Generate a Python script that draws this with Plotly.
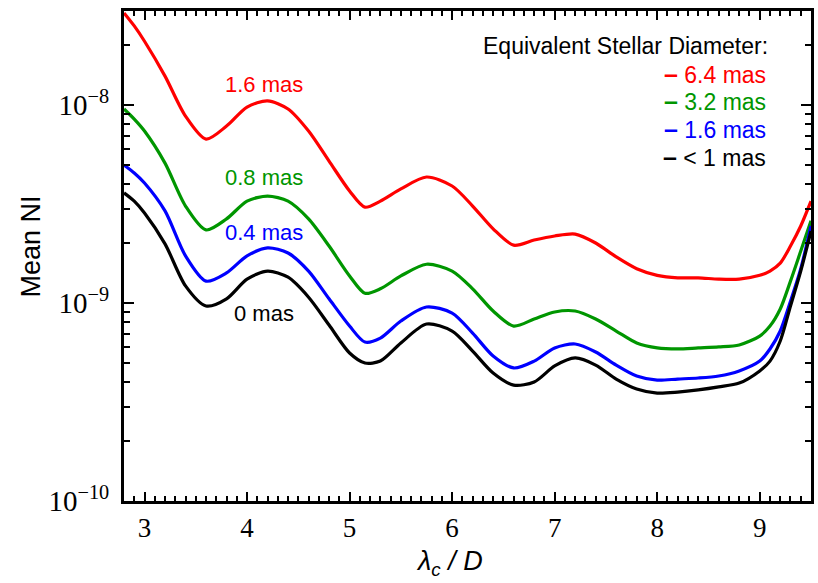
import plotly.graph_objects as go

# ---- data ----
lam = [2.8, 2.9, 3.0, 3.2, 3.4, 3.6, 3.8, 4.0, 4.2, 4.4,
       4.6, 4.8, 5.0, 5.15, 5.3, 5.5, 5.75, 6.0, 6.2, 6.4,
       6.6, 6.8, 7.0, 7.2, 7.4, 7.6, 7.8, 8.0, 8.2, 8.4,
       8.6, 8.8, 9.0, 9.1, 9.2, 9.3, 9.4, 9.5]

ni_64 = [2.92e-8, 2.51e-8, 2.10e-8, 1.40e-8, 8.79e-9, 6.73e-9, 7.83e-9, 9.77e-9, 1.05e-8, 9.55e-9,
         7.39e-9, 5.21e-9, 3.68e-9, 3.05e-9, 3.27e-9, 3.77e-9, 4.33e-9, 3.90e-9, 3.09e-9, 2.37e-9,
         1.96e-9, 2.08e-9, 2.18e-9, 2.23e-9, 2.01e-9, 1.71e-9, 1.49e-9, 1.38e-9, 1.34e-9, 1.34e-9,
         1.32e-9, 1.32e-9, 1.38e-9, 1.45e-9, 1.59e-9, 1.94e-9, 2.45e-9, 3.27e-9]

ni_32 = [9.55e-9, 8.49e-9, 7.39e-9, 5.09e-9, 3.09e-9, 2.34e-9, 2.66e-9, 3.27e-9, 3.47e-9, 3.27e-9,
         2.66e-9, 1.94e-9, 1.37e-9, 1.12e-9, 1.18e-9, 1.37e-9, 1.57e-9, 1.45e-9, 1.18e-9, 9.11e-10,
         7.65e-10, 8.30e-10, 9.01e-10, 9.11e-10, 8.30e-10, 7.22e-10, 6.28e-10, 5.93e-10, 5.86e-10, 5.93e-10,
         6.00e-10, 6.14e-10, 6.81e-10, 7.65e-10, 9.33e-10, 1.29e-9, 1.83e-9, 2.60e-9]

ni_16 = [4.98e-9, 4.54e-9, 4.04e-9, 2.92e-9, 1.73e-9, 1.29e-9, 1.42e-9, 1.73e-9, 1.90e-9, 1.79e-9,
         1.45e-9, 1.05e-9, 7.65e-10, 6.35e-10, 6.65e-10, 8.11e-10, 9.55e-10, 8.90e-10, 7.05e-10, 5.40e-10,
         4.70e-10, 5.09e-10, 5.93e-10, 6.21e-10, 5.66e-10, 4.86e-10, 4.28e-10, 4.08e-10, 4.13e-10, 4.18e-10,
         4.28e-10, 4.54e-10, 5.09e-10, 5.86e-10, 7.22e-10, 1.02e-9, 1.49e-9, 2.45e-9]

ni_lt1 = [3.60e-9, 3.27e-9, 2.85e-9, 1.99e-9, 1.22e-9, 9.66e-10, 1.05e-9, 1.32e-9, 1.45e-9, 1.35e-9,
          1.07e-9, 7.74e-10, 5.59e-10, 4.98e-10, 5.09e-10, 6.28e-10, 7.83e-10, 7.22e-10, 5.72e-10, 4.43e-10,
          3.85e-10, 3.99e-10, 4.81e-10, 5.28e-10, 4.86e-10, 4.13e-10, 3.68e-10, 3.51e-10, 3.55e-10, 3.64e-10,
          3.77e-10, 3.94e-10, 4.54e-10, 5.09e-10, 6.43e-10, 9.66e-10, 1.45e-9, 2.31e-9]

series_names = ["6.4 mas", "3.2 mas", "1.6 mas", "< 1 mas"]
series_labels = ["1.6 mas", "0.8 mas", "0.4 mas", "0 mas"]
series_values = [ni_64, ni_32, ni_16, ni_lt1]
colors = ["#FF0000", "#009600", "#0000FF", "#000000"]

x_ticks = [3, 4, 5, 6, 7, 8, 9]
y_ticks = [1e-10, 1e-9, 1e-8]
y_ticktext = ["10<sup>\u221210</sup>", "10<sup>\u22129</sup>", "10<sup>\u22128</sup>"]
y_minor = [k * 10.0 ** e for e in (-10, -9, -8) for k in range(2, 10)]
x_minor = [round(2.8 + 0.1 * i, 1) for i in range(68)]

legend_title = "Equivalent Stellar Diameter:"

fig = go.Figure()
for name, vals, col in zip(series_names, series_values, colors):
    fig.add_trace(go.Scatter(x=lam, y=vals, mode="lines", name=name,
                             line=dict(color=col, width=3.2, shape="spline", smoothing=0.8),
                             showlegend=False))

sans = "Liberation Sans, Arial, sans-serif"
serif = "Liberation Serif, Times New Roman, serif"

axis_common = dict(showline=True, linecolor="black", linewidth=3, mirror="ticks",
                   ticks="inside", tickcolor="black", tickwidth=2,
                   showgrid=False, zeroline=False)

fig.update_xaxes(range=[2.8, 9.5], tickmode="array", tickvals=x_ticks,
                 ticklen=9, tickfont=dict(family=serif, size=27, color="black"),
                 ticklabelstandoff=1,
                 minor=dict(tickmode="array", tickvals=x_minor, ticks="inside",
                            ticklen=5, tickwidth=2, tickcolor="black"),
                 **axis_common)
fig.update_yaxes(type="log", range=[-10, -7.525], tickmode="array",
                 tickvals=y_ticks, ticktext=y_ticktext, ticklen=10,
                 tickfont=dict(family=serif, size=29, color="black"),
                 ticklabelstandoff=6,
                 minor=dict(tickmode="array", tickvals=y_minor, ticks="inside",
                            ticklen=6, tickwidth=2, tickcolor="black"),
                 **axis_common)

# axis titles
fig.add_annotation(text="<i>\u03bb</i><sub><i>c</i></sub><i> / D</i>", xref="paper", yref="paper",
                   x=0.474, y=-0.127, xanchor="center", yanchor="middle", showarrow=False,
                   font=dict(family=sans, size=27, color="black"))
fig.add_annotation(text="Mean NI", xref="paper", yref="paper", textangle=-90,
                   x=-0.135, y=0.52, xanchor="center", yanchor="middle", showarrow=False,
                   font=dict(family=sans, size=27, color="black"))

# legend (text block, right aligned)
fig.add_annotation(text=legend_title, xref="paper", yref="paper", x=0.940, y=0.929,
                   xanchor="right", yanchor="middle", showarrow=False,
                   font=dict(family=sans, size=23, color="black"))
leg_y = [0.872, 0.816, 0.759, 0.702]
for name, col, yy in zip(series_names, colors, leg_y):
    fig.add_annotation(text="<span style='font-size:25px;font-weight:bold'>\u2013</span> "
                            + name.replace("<", "&lt;"),
                       xref="paper", yref="paper",
                       x=0.937, y=yy, xanchor="right", yanchor="middle", showarrow=False,
                       font=dict(family=sans, size=23, color=col))

# in-plot labels
lab_y = [0.851, 0.660, 0.548, 0.383]
for lab, col, yy in zip(series_labels, colors, lab_y):
    fig.add_annotation(text=lab, xref="paper", yref="paper", x=0.2045, y=yy,
                       xanchor="center", yanchor="middle", showarrow=False,
                       font=dict(family=sans, size=22, color=col))

fig.update_layout(width=818, height=583, margin=dict(l=124, r=4, t=11, b=82),
                  plot_bgcolor="white", paper_bgcolor="white")

fig.write_html("out.html")
